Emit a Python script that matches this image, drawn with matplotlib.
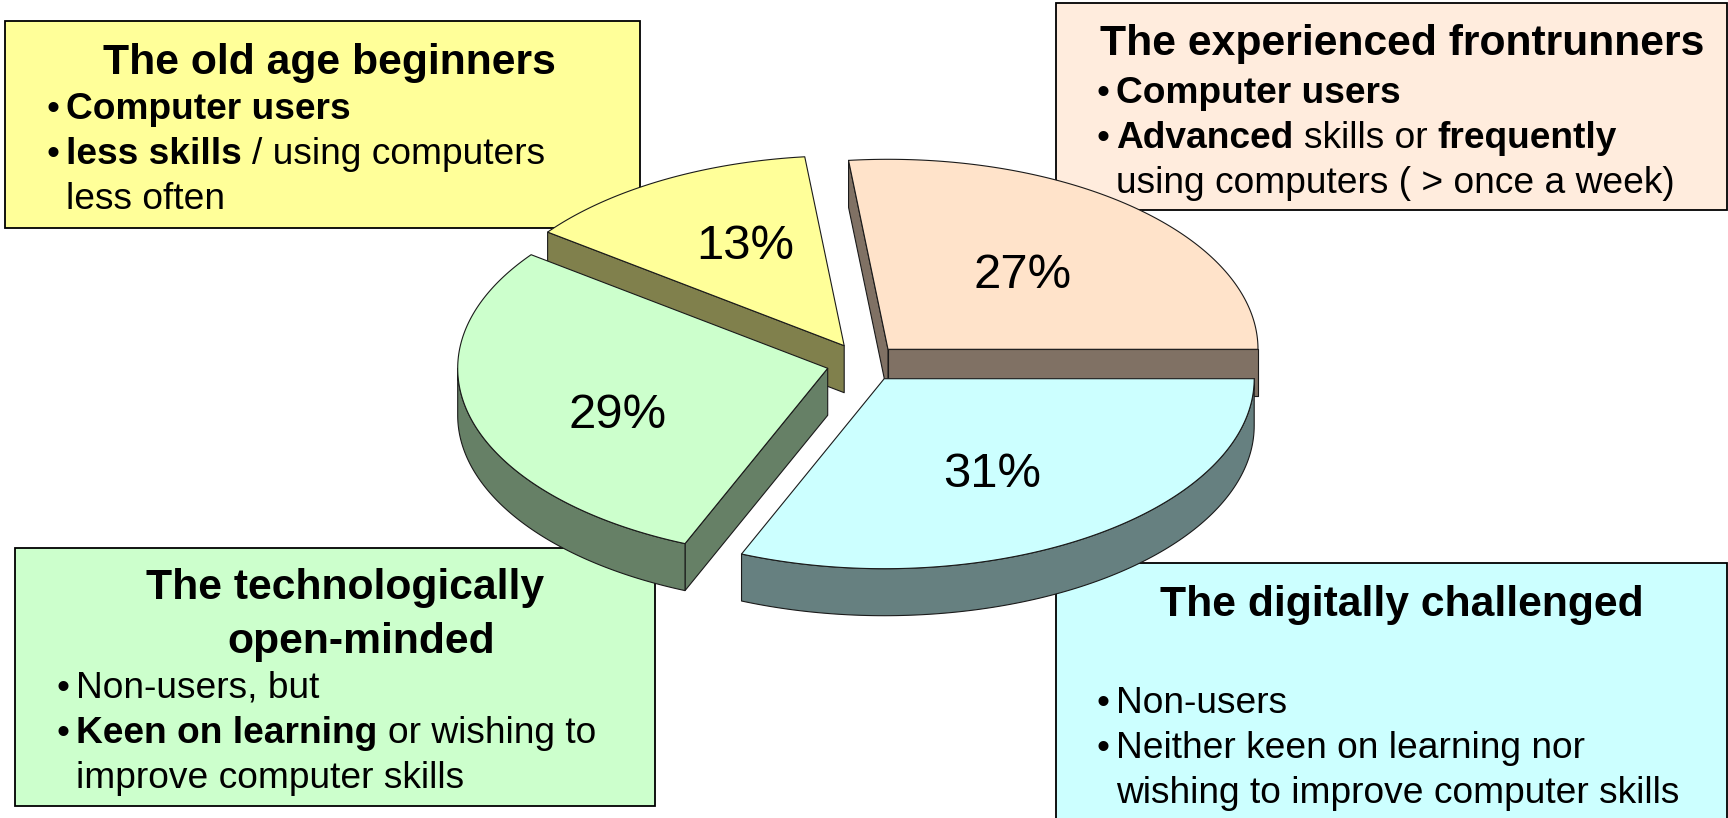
# Four user groups shown as an exploded 3D style pie with a text box per group.

import numpy as np
import matplotlib
matplotlib.use("Agg")
import matplotlib.pyplot as plt
from matplotlib.patches import Polygon, Rectangle

plt.rcParams["font.family"] = ["Liberation Sans", "DejaVu Sans"]

# Pie data, counter clockwise from 3 o'clock. Labels are rounded, shares are read from the slice edges
shares = [26.7, 13.1, 28.9, 31.3]
share_labels = ["27%", "13%", "29%", "31%"]
top_colors = ["#FFE3CA", "#FFFF99", "#CCFFCC", "#CCFFFF"]
side_colors = ["#807164", "#80804C", "#668066", "#668080"]

# Where each slice sits on the page (pixels) and where its label goes
slice_centers = [(888, 349.3), (844.2, 345.7), (827.7, 368.3), (884.2, 378.7)]
label_positions = [(1022.4, 287.7), (745.4, 259), (617.9, 428.3), (992, 487.3)]
RADIUS_X = 370
RADIUS_Y = 190
DEPTH = 47

# Box text, bold parts are flagged
old_age_title = ["The old age beginners"]
old_age_lines = [
    [("Computer users", "bold")],
    [("less skills", "bold"), ("/ using computers", "normal")],
    [("less often", "normal")],
]
frontrunner_title = ["The experienced frontrunners"]
frontrunner_lines = [
    [("Computer users", "bold")],
    [("Advanced", "bold"), ("skills or", "normal"), ("frequently", "bold")],
    [("using computers ( > once a week)", "normal")],
]
open_minded_title = ["The technologically", "open-minded"]
open_minded_lines = [
    [("Non-users, but", "normal")],
    [("Keen on learning", "bold"), ("or wishing to", "normal")],
    [("improve computer skills", "normal")],
]
challenged_title = ["The digitally challenged"]
challenged_lines = [
    [("Non-users", "normal")],
    [("Neither keen on learning nor", "normal")],
    [("wishing to improve computer skills", "normal")],
]

TITLE_SIZE = 30.7
BODY_SIZE = 26.7
LABEL_SIZE = 35.3
DPI = 100


# Points along the ellipse of a slice, angles in degrees
def arc(center, start, end, drop=0):
    angles = np.radians(np.linspace(start, end, 120))
    xs = center[0] + RADIUS_X * np.cos(angles)
    ys = center[1] - RADIUS_Y * np.sin(angles) + drop
    return np.column_stack([xs, ys])


def add_poly(ax, points, color, z):
    ax.add_patch(Polygon(points, closed=True, facecolor=color, edgecolor="#1a1a1a",
                         linewidth=0.8, joinstyle="round", zorder=z))


# Radial face of a slice going from the center out to one angle
def radial_face(center, angle):
    rim = arc(center, angle, angle)[0]
    return [center, rim, (rim[0], rim[1] + DEPTH), (center[0], center[1] + DEPTH)]


def draw_slice(ax, center, start, end, top_color, side_color, z):
    if np.cos(np.radians(start)) > 0:
        add_poly(ax, radial_face(center, start), side_color, z)
    if np.cos(np.radians(end)) < 0:
        add_poly(ax, radial_face(center, end), side_color, z)

    # Outer wall, only the part facing the viewer
    low = max(start, 180)
    high = min(end, 360)
    if low < high:
        wall = np.vstack([arc(center, low, high), arc(center, high, low, DEPTH)])
        add_poly(ax, wall, side_color, z)

    top = np.vstack([[center], arc(center, start, end)])
    add_poly(ax, top, top_color, z + 0.5)


# Write one line of mixed weight text, left to right from x
def draw_runs(ax, renderer, x, y, runs):
    space = 0.278 * BODY_SIZE * DPI / 72
    for text, weight in runs:
        t = ax.text(x, y, text, fontsize=BODY_SIZE, fontweight=weight, ha="left",
                    va="baseline", color="black", zorder=10)
        x += t.get_window_extent(renderer).width + space


def draw_box(ax, renderer, left, top, right, bottom, color, titles, title_spots, lines,
             bullet_x, text_x, baselines, bullets):
    ax.add_patch(Rectangle((left, top), right - left, bottom - top, facecolor=color,
                           edgecolor="black", linewidth=1.3, zorder=1))
    for title, (cx, y) in zip(titles, title_spots):
        ax.text(cx, y, title, fontsize=TITLE_SIZE, fontweight="bold", ha="center",
                va="baseline", zorder=10)
    for runs, y, has_bullet in zip(lines, baselines, bullets):
        if has_bullet:
            ax.text(bullet_x, y, "\u2022", fontsize=BODY_SIZE, ha="left", va="baseline", zorder=10)
        draw_runs(ax, renderer, text_x, y, runs)


def main():
    fig = plt.figure(figsize=(17.28, 8.18), dpi=DPI)
    ax = fig.add_axes([0, 0, 1, 1])
    ax.set_xlim(0, 1728)
    ax.set_ylim(818, 0)
    ax.axis("off")
    renderer = fig.canvas.get_renderer()

    # Text boxes go under the pie
    draw_box(ax, renderer, 5, 21, 640, 227.7, "#FFFF99", old_age_title, [(329, 74)],
             old_age_lines, 47, 66, [119, 164, 209], [True, True, False])
    draw_box(ax, renderer, 1055.8, 3.3, 1726.7, 210, "#FFECDD", frontrunner_title, [(1402, 55)],
             frontrunner_lines, 1097, 1116, [102.7, 147.7, 192.7], [True, True, False])
    draw_box(ax, renderer, 15, 547.7, 654.8, 806, "#CCFFCC", open_minded_title,
             [(345, 599), (361, 653)],
             open_minded_lines, 57, 76, [697.7, 742.7, 787.7], [True, True, False])
    draw_box(ax, renderer, 1055.8, 563.3, 1726.7, 840, "#CCFFFF", challenged_title, [(1402, 615.7)],
             challenged_lines, 1097, 1116, [712.7, 757.7, 802.7], [True, True, False])

    # Slice angles come from the shares
    edges = np.concatenate([[0], np.cumsum(shares)]) * 360 / sum(shares)

    # Back slices first so the front ones cover their walls
    for z, i in enumerate([1, 0, 2, 3]):
        draw_slice(ax, slice_centers[i], edges[i], edges[i + 1], top_colors[i], side_colors[i], 2 + z)

    for label, (x, y) in zip(share_labels, label_positions):
        ax.text(x, y, label, fontsize=LABEL_SIZE, ha="center", va="baseline", zorder=10)

    fig.savefig("out.png", dpi=DPI, facecolor="white")


if __name__ == "__main__":
    main()
